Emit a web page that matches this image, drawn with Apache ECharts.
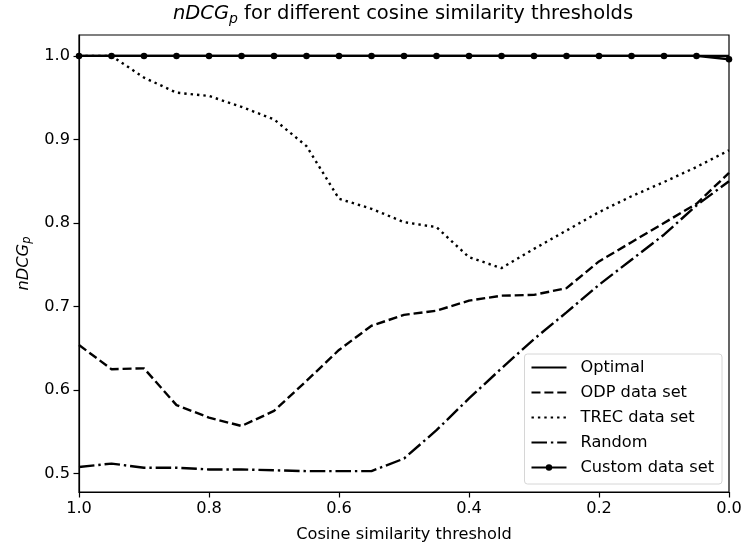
<!DOCTYPE html>
<html>
<head>
<meta charset="utf-8">
<script src="https://cdn.jsdelivr.net/npm/echarts@6/dist/echarts.min.js"></script>
<style>html,body{margin:0;padding:0;background:#fff}#c{width:742px;height:547px}</style>
</head>
<body>
<div id="c"></div>
<script>
// Cosine similarity thresholds (x)
const thresholds = [1.0, 0.95, 0.9, 0.85, 0.8, 0.75, 0.7, 0.65, 0.6, 0.55, 0.5, 0.45, 0.4, 0.35, 0.3, 0.25, 0.2, 0.15, 0.1, 0.05, 0.0];
const optimal = [1, 1, 1, 1, 1, 1, 1, 1, 1, 1, 1, 1, 1, 1, 1, 1, 1, 1, 1, 1, 1];
const odp = [0.654, 0.625, 0.626, 0.582, 0.567, 0.557, 0.575, 0.611, 0.648, 0.677, 0.690, 0.695, 0.707, 0.713, 0.714, 0.722, 0.754, 0.777, 0.800, 0.823, 0.860];
const trec = [1.0, 1.0, 0.974, 0.956, 0.952, 0.939, 0.924, 0.892, 0.829, 0.817, 0.801, 0.795, 0.759, 0.746, 0.769, 0.791, 0.813, 0.832, 0.849, 0.867, 0.887];
const randomSel = [0.508, 0.512, 0.507, 0.507, 0.505, 0.505, 0.504, 0.503, 0.503, 0.503, 0.518, 0.552, 0.590, 0.626, 0.661, 0.693, 0.726, 0.756, 0.786, 0.821, 0.850];
const custom = [1, 1, 1, 1, 1, 1, 1, 1, 1, 1, 1, 1, 1, 1, 1, 1, 1, 1, 1, 1, 0.996];
const yTicks = [0.5, 0.6, 0.7, 0.8, 0.9, 1.0];
const xTicks = [1.0, 0.8, 0.6, 0.4, 0.2, 0.0];
const seriesNames = ['Optimal', 'ODP data set', 'TREC data set', 'Random', 'Custom data set'];

const pairs = vals => thresholds.map((x, i) => [x, vals[i]]);
const FONT = 'DejaVu Sans';
const FS = 16.2;
const lw = 2.4;

function lineSeries(name, vals, dash, withSymbol) {
  return {
    name: name,
    type: 'line',
    data: pairs(vals),
    symbol: withSymbol ? 'circle' : 'none',
    symbolSize: 6.5,
    showSymbol: !!withSymbol,
    itemStyle: { color: '#000' },
    lineStyle: { color: '#000', width: lw, type: dash, cap: 'butt' },
    emphasis: { disabled: true },
    animation: false
  };
}

const chart = echarts.init(document.getElementById('c'), null, { renderer: 'canvas' });
chart.setOption({
  backgroundColor: '#fff',
  animation: false,
  title: {
    text: '{i|nDCG}{s|p}{n| for different cosine similarity thresholds}',
    left: 398,
    textAlign: 'center',
    top: -3,
    textStyle: {
      fontWeight: 'normal',
      rich: {
        i: { fontFamily: FONT, fontSize: 19.5, fontStyle: 'italic', fontWeight: 'normal', color: '#000', lineHeight: 24 },
        s: { fontFamily: FONT, fontSize: 14, fontStyle: 'italic', fontWeight: 'normal', color: '#000', lineHeight: 24, padding: [10, 0, 0, 0] },
        n: { fontFamily: FONT, fontSize: 19.5, fontWeight: 'normal', color: '#000', lineHeight: 24 }
      }
    }
  },
  grid: {
    left: 79, right: 13, top: 35, bottom: 55,
    outerBoundsMode: 'none',
    containLabel: false,
    show: true, borderColor: '#000', borderWidth: 1.2, backgroundColor: '#fff'
  },
  legend: {
    data: seriesNames.map((n, i) => i === 4 ? { name: n } : { name: n, itemStyle: { opacity: 0 } }),
    orient: 'vertical',
    right: 20,
    bottom: 63,
    itemWidth: 35,
    itemHeight: 8,
    itemGap: 6,
    padding: [4, 8, 7, 6],
    backgroundColor: '#fff',
    borderColor: '#d6d6d6',
    borderWidth: 1,
    borderRadius: 3,
    textStyle: { fontFamily: FONT, fontSize: FS, color: '#000', lineHeight: 19, padding: [0, 0, 0, 9] }
  },
  xAxis: {
    type: 'value',
    inverse: true,
    min: 0, max: 1, interval: 0.2,
    name: 'Cosine similarity threshold',
    nameLocation: 'middle',
    nameGap: 35,
    nameTextStyle: { fontFamily: FONT, fontSize: FS, color: '#000' },
    axisLine: { show: true, onZero: false, lineStyle: { color: '#000', width: 1.2 } },
    axisTick: { show: true, length: 5.5, lineStyle: { color: '#000', width: 1.2 }, customValues: xTicks },
    axisLabel: { fontFamily: FONT, fontSize: FS, color: '#000', margin: 9,
      customValues: xTicks, formatter: v => v.toFixed(1) },
    splitLine: { show: false }
  },
  yAxis: {
    type: 'value',
    min: 0.478, max: 1.025,
    name: '{i|nDCG}{s|p}',
    nameLocation: 'middle',
    nameGap: 44,
    nameRotate: 90,
    nameTextStyle: {
      rich: {
        i: { fontFamily: FONT, fontSize: FS, fontStyle: 'italic', color: '#000', lineHeight: 20 },
        s: { fontFamily: FONT, fontSize: 11.5, fontStyle: 'italic', color: '#000', lineHeight: 20, padding: [8, 0, 0, 0] }
      }
    },
    axisLine: { show: true, onZero: false, lineStyle: { color: '#000', width: 1.2 } },
    axisTick: { show: true, length: 5.5, lineStyle: { color: '#000', width: 1.2 }, customValues: yTicks },
    axisLabel: { fontFamily: FONT, fontSize: FS, color: '#000', margin: 9,
      customValues: yTicks, formatter: v => v.toFixed(1) },
    splitLine: { show: false }
  },
  series: [
    lineSeries(seriesNames[0], optimal, 'solid', false),
    lineSeries(seriesNames[1], odp, [9, 3.9], false),
    lineSeries(seriesNames[2], trec, [2.4, 4], false),
    lineSeries(seriesNames[3], randomSel, [15.5, 3.9, 2.4, 3.9], false),
    lineSeries(seriesNames[4], custom, 'solid', true)
  ]
});
</script>
</body>
</html>
